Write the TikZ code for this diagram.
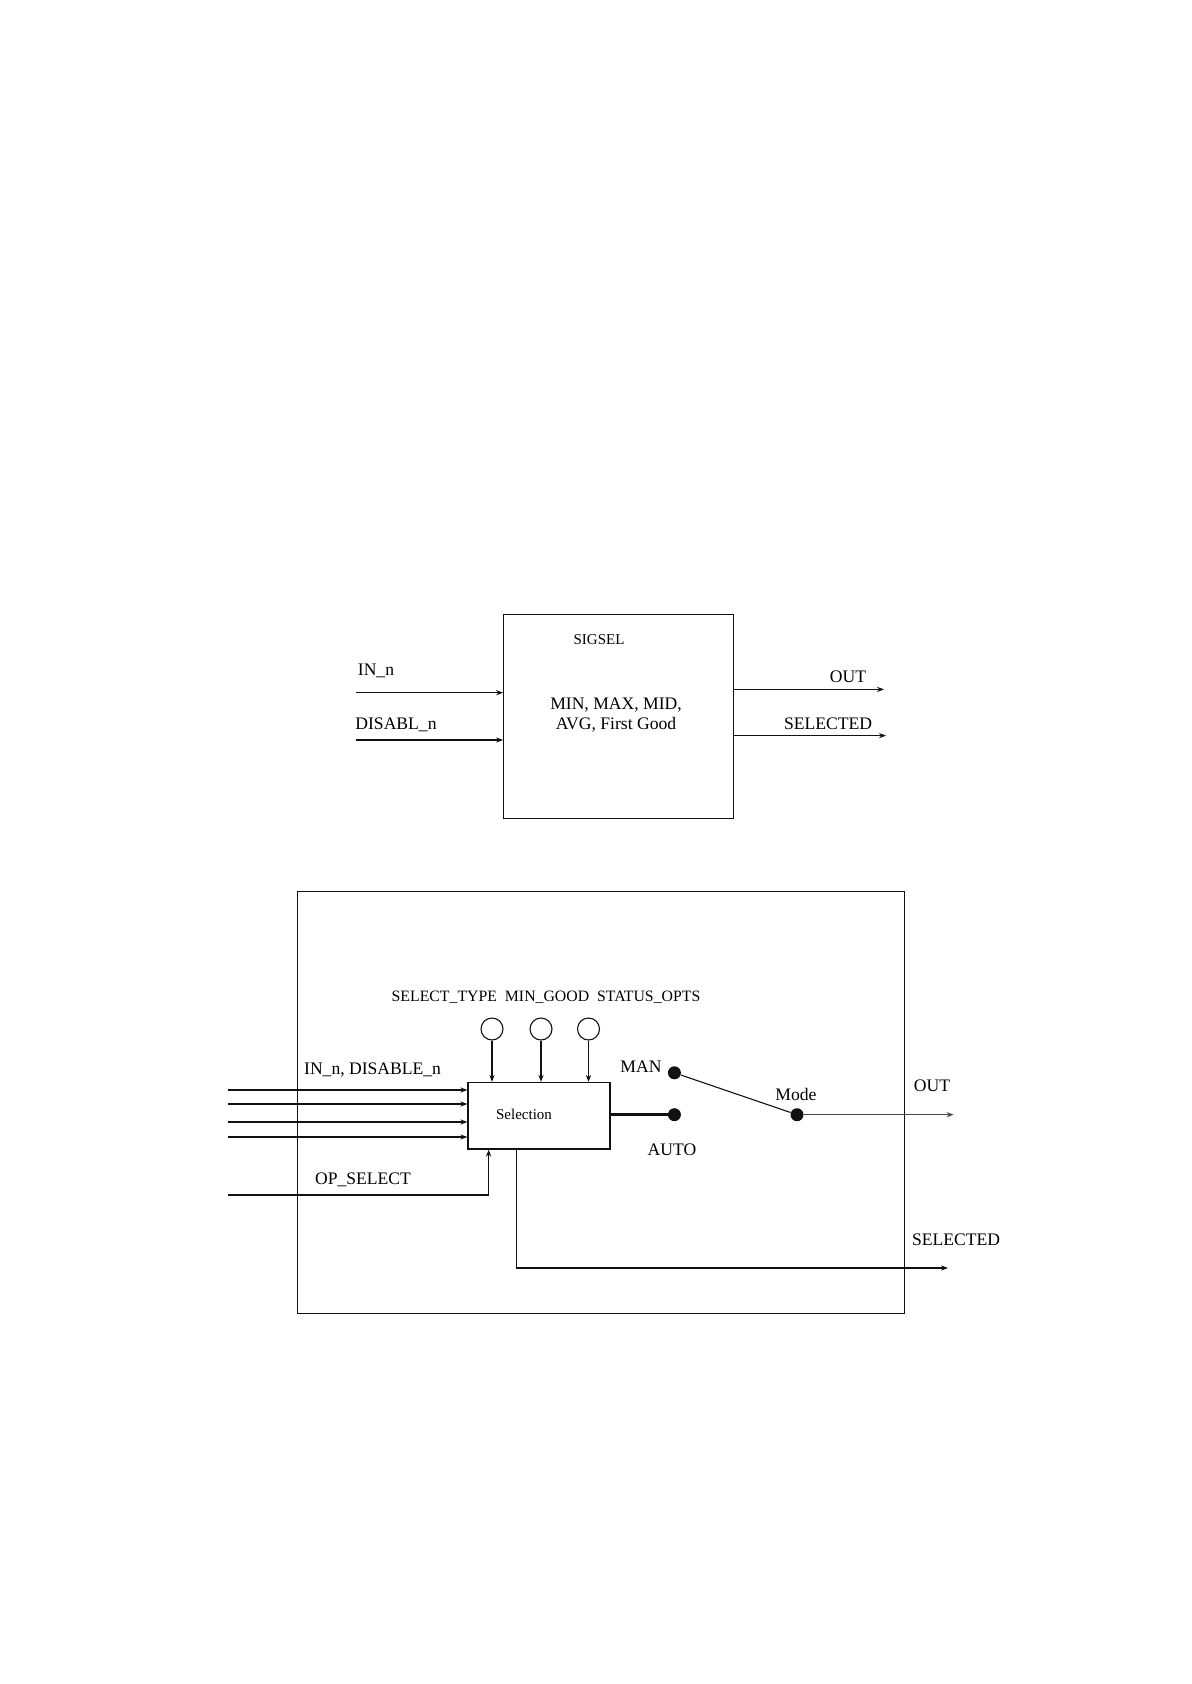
\documentclass[tikz,border=0pt]{standalone}
\usepackage{fontspec}
\setmainfont{Liberation Serif}
\usetikzlibrary{arrows.meta}
\definecolor{sgink}{HTML}{111111}
\definecolor{sggrey}{HTML}{4A4A4A}

\begin{document}
\begin{tikzpicture}[x=0.5pt, y=-0.5pt, line cap=butt,
    sig/.style={sgink, line width=0.55pt, -{Stealth[length=3.5pt, width=2.6pt]}},
    wire/.style={sgink, line width=0.55pt},
    lbl/.style={font=\fontsize{8.8}{10}\selectfont, inner sep=0pt},
    dot/.style={circle, fill=sgink, minimum size=6.5pt, inner sep=0pt},
    param/.style={circle, draw=sgink, line width=0.55pt, minimum size=11pt, inner sep=0pt}]
  \useasboundingbox (0,0) rectangle (1191,1684);
  % top block
  \node[draw=sgink, line width=0.6pt, minimum width=114.9pt, minimum height=102pt] (sigsel) at (618.6,716.3) {};
  \node[lbl, font=\fontsize{7.5}{9}\selectfont] (signame) at (599,640) {SIGSEL};
  \node[lbl, align=center] (sigtypes) at (616,715) {MIN, MAX, MID,\\AVG, First Good};
  \coordinate (inA) at (355.5,692.7);
  \coordinate (inB) at (355.5,740);
  \coordinate (outA) at (884,689.4);
  \coordinate (outB) at (886,735.6);
  \draw[sig] (inA) -- (inA -| sigsel.west);
  \draw[sig] (inB) -- (inB -| sigsel.west);
  \draw[sig] (outA -| sigsel.east) -- (outA);
  \draw[sig] (outB -| sigsel.east) -- (outB);
  \node[lbl] (inAlbl) at (376,671) {IN\_n};
  \node[lbl] (inBlbl) at (396,725) {DISABL\_n};
  \node[lbl] (outAlbl) at (848,677) {OUT};
  \node[lbl] (outBlbl) at (828,724) {SELECTED};
  % bottom block
  \node[draw=sgink, line width=0.6pt, minimum width=303.3pt, minimum height=211pt] (blk) at (600.85,1102.35) {};
  \node[draw=sgink, line width=0.6pt, minimum width=71pt, minimum height=33.3pt] (sel) at (539,1115.75) {};
  \node[lbl, font=\fontsize{7.5}{9}\selectfont] (selname) at (524,1114) {Selection};
  \node[lbl, font=\fontsize{7.9}{9}\selectfont] (parlbl) at (546,997) {SELECT\_TYPE\ \ MIN\_GOOD\ \ STATUS\_OPTS};
  \foreach \px/\pname in {492/ptype, 541/pgood, 588.5/popts} {
    \node[param] (\pname) at (\px,1029) {};
    \draw[sig] (\pname.south) -- (\pname.south |- sel.north);
  }
  \foreach \iy in {1090,1104,1122,1137} {
    \coordinate (in\iy) at (228,\iy);
    \draw[sig] (in\iy) -- (in\iy -| sel.west);
  }
  \node[lbl] (inlbl) at (372.6,1070.5) {IN\_n, DISABLE\_n};
  \coordinate (opin) at (228,1195);
  \draw[sig] (opin) -| ([xshift=-25.2pt]sel.south);
  \node[lbl] (oplbl) at (363,1180) {OP\_SELECT};
  % mode switch
  \node[dot] (man) at (674.4,1072.8) {};
  \node[dot] (auto) at (674.4,1114.7) {};
  \node[dot] (mode) at (797,1114.7) {};
  \draw[sgink, line width=1.3pt] (auto -| sel.east) -- (auto);
  \draw[wire] (man) -- (mode);
  \node[lbl] (manlbl) at (641,1067) {MAN};
  \node[lbl] (autolbl) at (672,1150) {AUTO};
  \node[lbl] (modelbl) at (796,1094) {Mode};
  \coordinate (out) at (953.6,1114.7);
  \draw[sig, sggrey, line width=0.7pt] (mode) -- (out);
  \node[lbl] (outlbl) at (932,1085.6) {OUT};
  \coordinate (selout) at (948,1268);
  \draw[sig] ([xshift=-11.25pt]sel.south) |- (selout);
  \node[lbl] (sellbl) at (956,1240) {SELECTED};
\end{tikzpicture}
\end{document}
